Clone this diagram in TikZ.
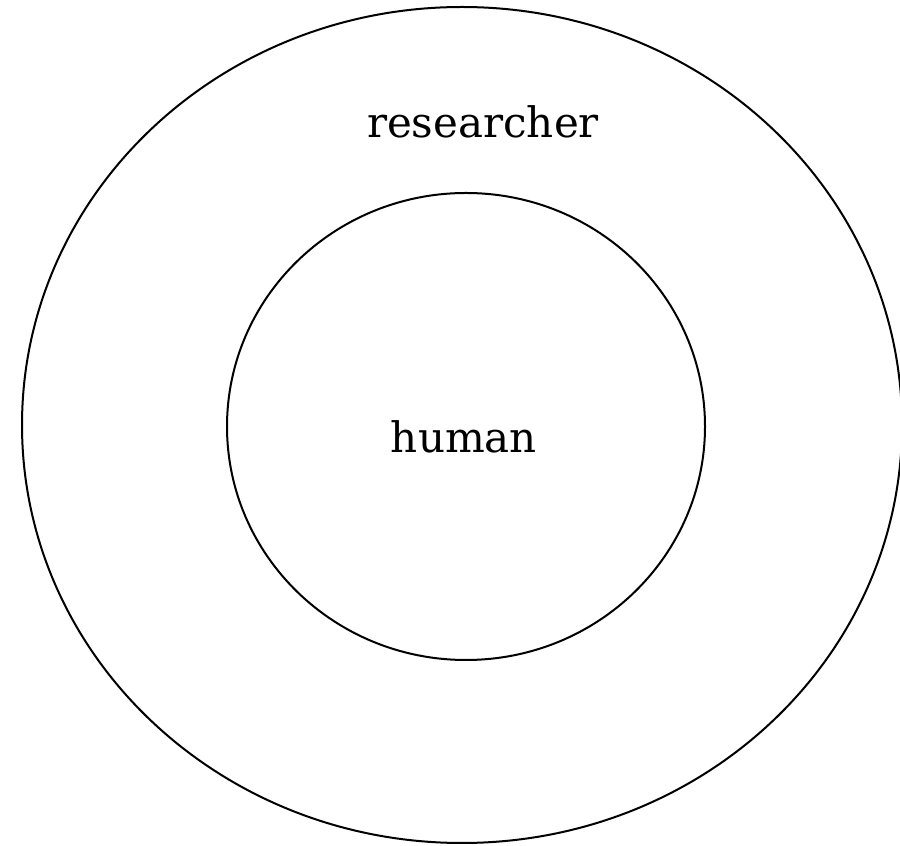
\documentclass[tikz,border=0pt]{standalone}
\usepackage{fontspec}
\setmainfont{DejaVu Serif}
\usepackage{tikz}
\usetikzlibrary{shapes.geometric, positioning}
\tikzstyle{ring}  = [ellipse, draw=black, line width=2pt, inner sep=0pt]
\tikzstyle{label} = [font=\fontsize{42}{48}\selectfont, inner sep=0pt]

\begin{document}
\begin{tikzpicture}[x=1pt, y=1pt]
    \useasboundingbox (0,0) rectangle (900,846);
    \node[ring, minimum width=880pt, minimum height=836pt] (outer) at (462,421) {};
    \node[ring, minimum width=478pt, minimum height=467pt] (inner) at (466,419.5) {};

    \node[label, anchor=base] (researcher) at (483,708) {researcher};
    \node[label, anchor=base] (human) at (464,393) {human};
  \end{tikzpicture}
\end{document}
